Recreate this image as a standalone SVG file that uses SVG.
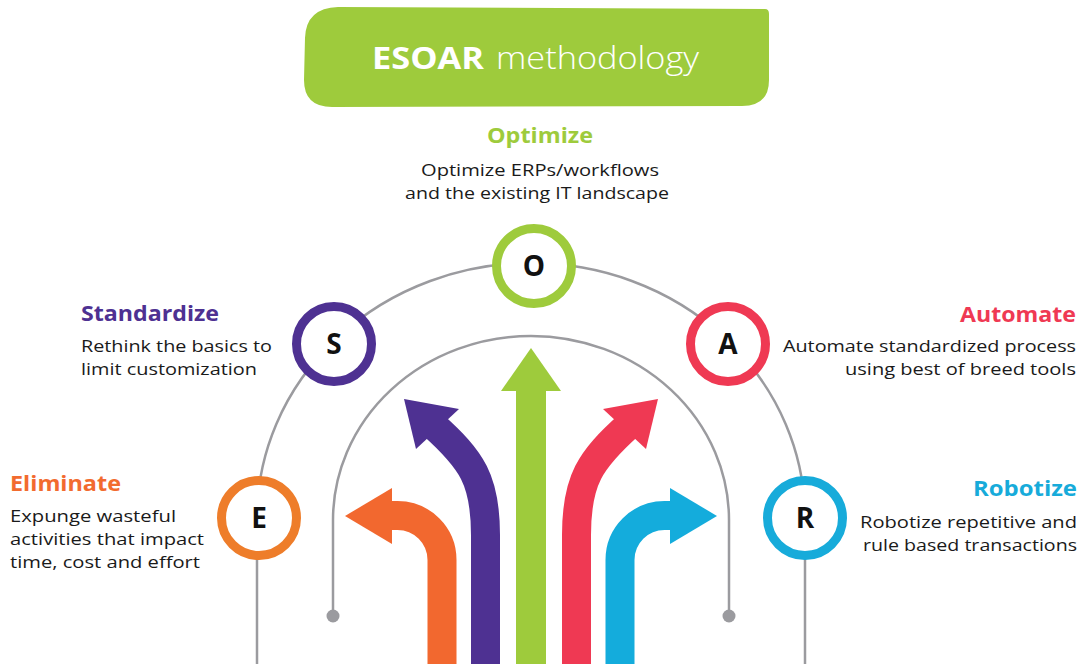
<svg xmlns="http://www.w3.org/2000/svg" width="1088" height="664" viewBox="0 0 1088 664">
<style>
text{font-family:"Open Sans","Noto Sans","Liberation Sans",sans-serif}
.h{font-size:22px;font-weight:700}
.b{font-size:17px;fill:#1a1a1a}
.l{font-size:28px;font-weight:700;fill:#111;text-anchor:middle}
.ring{fill:#fff;stroke-width:9}
.conn{fill:none;stroke:#9b9b9f;stroke-width:2.5}
.shaft{fill:none;stroke-width:29}
</style>
<rect width="1088" height="664" fill="#fff"/>
<g id="title">
<path d="M338,7 L765,9 Q769,9 769,14 L769,80 Q769,106 742,106 L332,107 Q304,107 304,80 L305,38 Q306,8 338,7 Z" fill="#9ecb3c"/>
<text x="372" y="69" font-size="31" font-weight="700" fill="#fff" textLength="112" lengthAdjust="spacingAndGlyphs">ESOAR</text>
<text x="496" y="69" font-size="31" font-weight="300" fill="#fff" textLength="203" lengthAdjust="spacingAndGlyphs">methodology</text>
</g>
<g id="connectors">
<path class="conn" d="M257,664 V518 A274,255 0 0 1 805,518 V664"/>
<path class="conn" d="M333,616 V520 A198,184 0 0 1 729,520 V616"/>
<circle cx="333" cy="616" r="6.5" fill="#9b9b9f"/>
<circle cx="729" cy="616" r="6.5" fill="#9b9b9f"/>
</g>
<g id="arrows">
<g id="arrow-orange" fill="#f2682f" stroke="#f2682f">
<path class="shaft" d="M442,664 V560 A44.5,44.5 0 0 0 397.5,515.5 H388"/>
<polygon stroke="none" points="392,488 345,516 392,544"/>
</g>
<g id="arrow-blue" fill="#14acdc" stroke="#14acdc">
<path class="shaft" d="M620,664 V560 A44.5,44.5 0 0 1 664.5,515.5 H674"/>
<polygon stroke="none" points="670,488 717,516 670,544"/>
</g>
<g id="arrow-purple" fill="#4e3192" stroke="#4e3192">
<path class="shaft" d="M485.5,664 V535 C485.5,480 472,460 433,425"/>
<polygon stroke="none" points="404,399 459,409 416,449"/>
</g>
<g id="arrow-red" fill="#ef3953" stroke="#ef3953">
<path class="shaft" d="M576.5,664 V535 C576.5,480 590,460 629,425"/>
<polygon stroke="none" points="658,399 603,409 646,449"/>
</g>
<g id="arrow-green" fill="#9ecb3c">
<rect x="516" y="388" width="30" height="276"/>
<polygon points="501,391 531,348 561,391"/>
</g>
</g>
<g id="node-E">
<circle class="ring" cx="259" cy="518" r="37.5" stroke="#ee7d2a"/>
<text class="l" x="259" y="528">E</text>
<text class="h" x="10" y="491" fill="#f26b2f" textLength="111" lengthAdjust="spacingAndGlyphs">Eliminate</text>
<text class="b" x="10" y="522" textLength="166" lengthAdjust="spacingAndGlyphs">Expunge wasteful</text>
<text class="b" x="10" y="545" textLength="194" lengthAdjust="spacingAndGlyphs">activities that impact</text>
<text class="b" x="10" y="568" textLength="190" lengthAdjust="spacingAndGlyphs">time, cost and effort</text>
</g>
<g id="node-S">
<circle class="ring" cx="334" cy="344" r="37.5" stroke="#4e3192"/>
<text class="l" x="334" y="354">S</text>
<text class="h" x="81" y="321" fill="#4e3192" textLength="138" lengthAdjust="spacingAndGlyphs">Standardize</text>
<text class="b" x="81" y="352" textLength="191" lengthAdjust="spacingAndGlyphs">Rethink the basics to</text>
<text class="b" x="81" y="375" textLength="176" lengthAdjust="spacingAndGlyphs">limit customization</text>
</g>
<g id="node-O">
<circle class="ring" cx="534" cy="266" r="37.5" stroke="#9ecb3c"/>
<text class="l" x="534" y="276">O</text>
<text class="h" x="540" y="143" fill="#9ecb3c" text-anchor="middle" textLength="106" lengthAdjust="spacingAndGlyphs">Optimize</text>
<text class="b" x="540" y="176" text-anchor="middle" textLength="238" lengthAdjust="spacingAndGlyphs">Optimize ERPs/workflows</text>
<text class="b" x="537" y="199" text-anchor="middle" textLength="264" lengthAdjust="spacingAndGlyphs">and the existing IT landscape</text>
</g>
<g id="node-A">
<circle class="ring" cx="728" cy="344" r="37.5" stroke="#ef3953"/>
<text class="l" x="728" y="354">A</text>
<text class="h" x="1076" y="322" fill="#ef3953" text-anchor="end" textLength="116" lengthAdjust="spacingAndGlyphs">Automate</text>
<text class="b" x="1076" y="352" text-anchor="end" textLength="293" lengthAdjust="spacingAndGlyphs">Automate standardized process</text>
<text class="b" x="1076" y="375" text-anchor="end" textLength="231" lengthAdjust="spacingAndGlyphs">using best of breed tools</text>
</g>
<g id="node-R">
<circle class="ring" cx="805" cy="518" r="37.5" stroke="#17abda"/>
<text class="l" x="805" y="528">R</text>
<text class="h" x="1077" y="496" fill="#17abda" text-anchor="end" textLength="104" lengthAdjust="spacingAndGlyphs">Robotize</text>
<text class="b" x="1077" y="528" text-anchor="end" textLength="217" lengthAdjust="spacingAndGlyphs">Robotize repetitive and</text>
<text class="b" x="1077" y="551" text-anchor="end" textLength="214" lengthAdjust="spacingAndGlyphs">rule based transactions</text>
</g>
</svg>
